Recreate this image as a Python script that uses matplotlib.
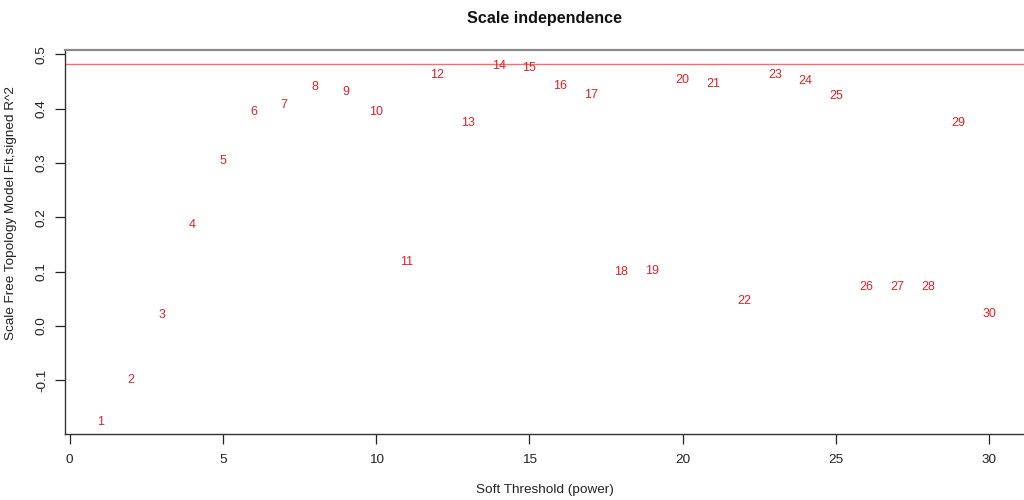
import matplotlib
matplotlib.use("Agg")
import matplotlib.pyplot as plt
import numpy as np

plt.rcParams['font.family'] = ['Liberation Sans', 'DejaVu Sans']

# soft-thresholding powers and the signed scale-free fit index for each
powers = list(range(1, 31))
signed_r2 = [-0.173, -0.096, 0.023, 0.188, 0.306, 0.396, 0.410, 0.442, 0.434, 0.397,
             0.120, 0.465, 0.377, 0.481, 0.477, 0.445, 0.428, 0.102, 0.104, 0.456,
             0.448, 0.049, 0.465, 0.453, 0.426, 0.075, 0.075, 0.075, 0.377, 0.025]
cutoff = 0.482

x_ticks = [0, 5, 10, 15, 20, 25, 30]
y_ticks = [-0.1, 0.0, 0.1, 0.2, 0.3, 0.4, 0.5]
y_tick_labels = ["-0.1", "0.0", "0.1", "0.2", "0.3", "0.4", "0.5"]

BASE = 9.7
LABEL_SIZE = 9.0

fig = plt.figure(figsize=(10.24, 5.0), dpi=100)
ax = fig.add_axes([0.0631, 0.1314, 0.9379, 0.7686])

# R-style 4% padding around the data range
xr = max(powers) - min(powers)
yr = max(signed_r2) - min(signed_r2)
ax.set_xlim(min(powers) - 0.04 * xr, max(powers) + 0.04 * xr)
ax.set_ylim(min(signed_r2) - 0.04 * yr, max(signed_r2) + 0.04 * yr + 0.0005)

# power labels, with the digits' visual centre on the data point
digit_half = 0.716 * LABEL_SIZE / 2
for p, v in zip(powers, signed_r2):
    ax.annotate(str(p), (p, v), xytext=(0, -digit_half), textcoords="offset points",
                color="#dc2228", fontsize=LABEL_SIZE, ha="center", va="baseline")

ax.axhline(cutoff, color="#f07070", lw=1.0)

ax.set_xticks(x_ticks)
ax.set_yticks(y_ticks)
ax.set_yticklabels(y_tick_labels, rotation=90, va="center")
ax.tick_params(axis="x", direction="out", length=7, width=0.9, pad=7.5,
               labelsize=BASE, colors="#222222")
ax.tick_params(axis="y", direction="out", length=7, width=0.9, pad=5,
               labelsize=BASE, colors="#222222")

for side in ("left", "bottom"):
    ax.spines[side].set_color("#333333")
    ax.spines[side].set_linewidth(1.0)
ax.spines["top"].set_color("#8a8a8a")
ax.spines["top"].set_linewidth(1.6)
ax.spines["right"].set_visible(False)

fig.text(544.5 / 1024, 1 - 18 / 500, "Scale independence", ha="center", va="center",
         fontsize=BASE * 1.2, fontweight="bold", color="#111111")
fig.text(544.5 / 1024, 1 - 490 / 500, "Soft Threshold (power)", ha="center", va="center",
         fontsize=BASE, color="#222222")
fig.text(11 / 1024, 1 - 212.5 / 500, "Scale Free Topology Model Fit,signed R^2",
         ha="center", va="center", rotation=90, fontsize=BASE, color="#222222")

fig.savefig("out.png", dpi=100, facecolor="white")
